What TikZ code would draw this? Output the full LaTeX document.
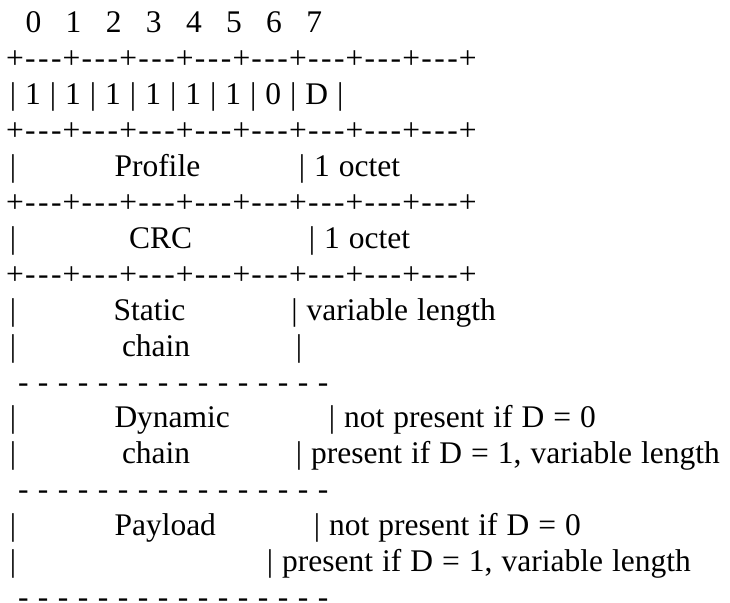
\documentclass[tikz,border=0pt]{standalone}
\usepackage{fontspec}
\setmainfont{Liberation Serif}
\usepackage{tikz}

\begin{document}
\begin{tikzpicture}[x=1pt,y=-1pt,inner sep=0pt,outer sep=0pt]
    \tikzstyle{txt}=[font={\fontsize{31.5}{36}\selectfont\spaceskip=9pt\relax}]
    \tikzstyle{lbl}=[txt,anchor=base west]
    \tikzstyle{glyph}=[txt,anchor=base]
    \tikzstyle{dashrow}=[anchor=base west,font={\fontsize{31.5}{36}\selectfont\spaceskip=9.5pt\relax}]

    \useasboundingbox (0,0) rectangle (730,602);

    % bit numbers
    \foreach \k in {0,...,7}
        \node[glyph] (num\k) at ({33.5+40.1*\k},32.5) {\k};

    % +---+ rows
    \foreach \r in {2,4,6,8} {
        \foreach \k in {0,...,8}
            \node[glyph] (plus\r-\k) at ({15+56.6*\k},{32.5+35.95*(\r-1)}) {+};
        \foreach \k in {0,...,7} {
            \foreach \j in {0,1,2}
                \node[glyph] (dash\r-\k-\j) at ({15+56.6*\k+15.3+13*\j},{32.5+35.95*(\r-1)}) {-};
        }
    }

    % left bars
    \foreach \r in {5,7,9,10,12,13,15,16}
        \node[glyph] (left\r) at (13,{32.5+35.95*(\r-1)}) {|};

    \node[lbl] (bits) at (9.85,104.4) {| 1 | 1 | 1 | 1 | 1 | 1 | 0 | D |};

    \node[lbl] (profile) at (114.5,176.3) {Profile};
    \node[lbl] (octetP)  at (298.9,176.3) {| 1 octet};

    \node[lbl] (crc)    at (129,248.2) {CRC};
    \node[lbl] (octetC) at (308.9,248.2) {| 1 octet};

    \node[lbl] (static) at (113.7,320.1) {Static};
    \node[lbl] (varS)   at (291.3,320.1) {| variable length};
    \node[lbl] (chainS) at (122,356.05) {chain};
    \node[glyph] (barS) at (299,356.05) {|};

    \node[dashrow] (sepS) at (18,392) {- - - - - - - - - - - - - - - -};

    \node[lbl] (dynamic) at (114.5,427.95) {Dynamic};
    \node[lbl] (notD)    at (328.9,427.95) {| not present if D = 0};
    \node[lbl] (chainD)  at (122,463.9) {chain};
    \node[lbl] (presD)   at (295.9,463.9) {| present if D = 1, variable length};

    \node[dashrow] (sepD) at (18,499.85) {- - - - - - - - - - - - - - - -};

    \node[lbl] (payload) at (114.5,535.8) {Payload};
    \node[lbl] (notP)    at (313.9,535.8) {| not present if D = 0};
    \node[lbl] (presP)   at (266.9,571.75) {| present if D = 1, variable length};

    \node[dashrow] (sepP) at (18,607.7) {- - - - - - - - - - - - - - - -};
\end{tikzpicture}
\end{document}
